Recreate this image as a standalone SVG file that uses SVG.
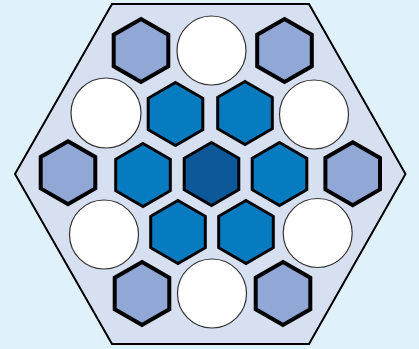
<svg xmlns="http://www.w3.org/2000/svg" width="419" height="349" viewBox="0 0 419 349">
<defs>
<style>
.bg{fill:#DFF2FB}
.board{fill:#D7E0F1;stroke:#000;stroke-width:2}
.hl{fill:#91A8D6;stroke:#000;stroke-width:4;stroke-linejoin:miter}
.hm{fill:#077BBF;stroke:#000;stroke-width:3}
.hd{fill:#0C5898;stroke:#000;stroke-width:3}
.c{fill:#fff;stroke:#333;stroke-width:1.2}
</style>
<polygon id="hex" points="0,-31.5 27.3,-15.75 27.3,15.75 0,31.5 -27.3,15.75 -27.3,-15.75"/>
</defs>
<rect class="bg" x="0" y="0" width="419" height="349"/>
<g id="board"><polygon class="board" points="112,4 309,4 405.5,174 309,344 112,344 15,174"/></g>
<g id="row1">
<g id="h1"><use href="#hex" class="hl" x="141" y="50.5"/></g>
<g id="c1"><circle class="c" cx="211.5" cy="50.5" r="34.5"/></g>
<g id="h2"><use href="#hex" class="hl" x="284.5" y="50.5"/></g>
</g>
<g id="row2">
<g id="c2"><circle class="c" cx="106" cy="113" r="35"/></g>
<g id="h3"><use href="#hex" class="hm" x="175.5" y="114"/></g>
<g id="h4"><use href="#hex" class="hm" x="245" y="113"/></g>
<g id="c3"><circle class="c" cx="314" cy="114.5" r="34.5"/></g>
</g>
<g id="row3">
<g id="h5"><use href="#hex" class="hl" x="68" y="172.7"/></g>
<g id="h6"><use href="#hex" class="hm" x="143" y="175"/></g>
<g id="h7"><use href="#hex" class="hd" x="211.5" y="174"/></g>
<g id="h8"><use href="#hex" class="hm" x="279.5" y="174"/></g>
<g id="h9"><use href="#hex" class="hl" x="352.7" y="173.7"/></g>
</g>
<g id="row4">
<g id="c4"><circle class="c" cx="104" cy="234.5" r="34.5"/></g>
<g id="h10"><use href="#hex" class="hm" x="178" y="232"/></g>
<g id="h11"><use href="#hex" class="hm" x="246" y="232"/></g>
<g id="c5"><circle class="c" cx="317.7" cy="233" r="34.5"/></g>
</g>
<g id="row5">
<g id="h12"><use href="#hex" class="hl" x="142" y="293.5"/></g>
<g id="c6"><circle class="c" cx="212" cy="293.5" r="34.5"/></g>
<g id="h13"><use href="#hex" class="hl" x="283" y="293.5"/></g>
</g>
</svg>
